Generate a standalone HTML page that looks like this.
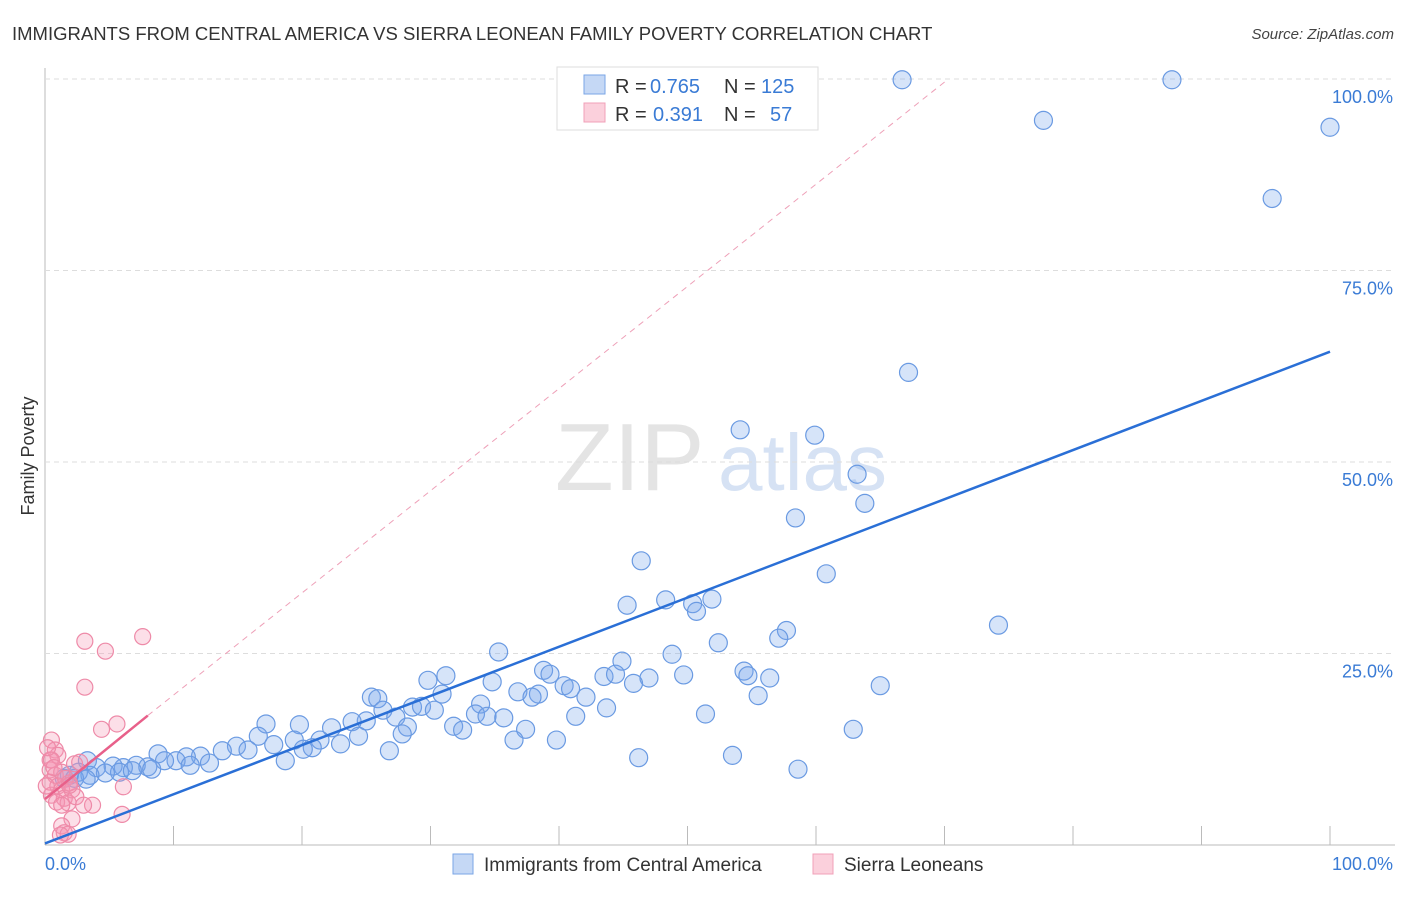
<!DOCTYPE html>
<html><head><meta charset="utf-8"><style>
body{margin:0;background:#fff;font-family:"Liberation Sans",sans-serif;}
svg text{font-family:"Liberation Sans",sans-serif;}
</style></head><body>
<svg id="chart" width="1406" height="892">
<text x="12" y="40" font-size="18.5" fill="#333">IMMIGRANTS FROM CENTRAL AMERICA VS SIERRA LEONEAN FAMILY POVERTY CORRELATION CHART</text>
<text x="1394" y="39" font-size="15" fill="#444" font-style="italic" text-anchor="end">Source: ZipAtlas.com</text>
<text x="34" y="456" font-size="18" fill="#333" text-anchor="middle" transform="rotate(-90 34 456)">Family Poverty</text>
<g><text x="555" y="490" font-size="96" fill="#e4e4e4" font-family="Liberation Serif">ZIP</text><text x="718" y="490" font-size="80" fill="#d6e2f4">atlas</text></g>
<g id="grid"></g><g id="pts"></g><g id="lines"></g>
<g>
<rect x="557" y="67" width="261" height="63" fill="#fff" stroke="#ddd"/>
<rect x="584" y="75" width="21" height="19" fill="#c5d8f5" stroke="#7aa6e6"/>
<rect x="584" y="103" width="21" height="19" fill="#fbd0dc" stroke="#f0a0b8"/>
<text y="93" font-size="20" fill="#333"><tspan x="615">R =</tspan><tspan x="650" fill="#3a7bd5">0.765</tspan><tspan x="724">N =</tspan><tspan x="761" fill="#3a7bd5">125</tspan></text>
<text y="121" font-size="20" fill="#333"><tspan x="615">R =</tspan><tspan x="653" fill="#3a7bd5">0.391</tspan><tspan x="724">N =</tspan><tspan x="770" fill="#3a7bd5">57</tspan></text>
</g>
<g>
<rect x="453" y="854" width="20" height="20" fill="#c5d8f5" stroke="#7aa6e6"/>
<text x="484" y="871" font-size="19" fill="#333">Immigrants from Central America</text>
<rect x="813" y="854" width="20" height="20" fill="#fbd0dc" stroke="#f0a0b8"/>
<text x="844" y="871" font-size="19" fill="#333">Sierra Leoneans</text>
</g>
</svg>
<script>
const yTicks=[25,50,75,100];
const yTickLabels=["25.0%","50.0%","75.0%","100.0%"];
const xTickLabels=["0.0%","100.0%"];
const blueX=[66.7,87.7,77.7,100,95.5,67.2,54.1,59.9,63.2,63.8,58.4,46.4,60.8,45.3,48.3,50.4,51.9,50.7,74.2,57.7,57.1,52.4,35.3,48.8,44.9,38.8,39.3,29.8,31.2,54.4,54.7,43.5,44.4,49.7,56.4,47.0,45.8,34.8,65.0,40.4,40.9,36.8,38.4,37.9,30.9,42.1,25.4,25.9,55.5,33.9,26.3,28.6,29.3,30.3,43.7,17.2,19.8,27.3,25.0,33.5,34.4,35.7,41.3,51.4,31.8,32.5,37.4,28.2,23.9,62.9,22.3,27.8,24.4,36.5,39.8,21.4,23.0,16.6,19.4,17.8,20.8,20.1,14.9,13.8,15.8,26.8,53.5,46.2,18.7,12.1,12.8,11.0,8.8,10.2,11.3,9.3,58.6,7.1,8.0,6.1,5.3,8.3,3.3,4.0,5.8,6.8,4.7,2.6,1.9,3.5,1.5,2.3,3.2];
const blueY=[99.9,99.9,94.6,93.7,84.4,61.7,54.2,53.5,48.4,44.6,42.7,37.1,35.4,31.3,32.0,31.5,32.1,30.5,28.7,28.0,27.0,26.4,25.2,24.9,24.0,22.8,22.3,21.5,22.1,22.7,22.1,22.0,22.3,22.2,21.8,21.8,21.1,21.3,20.8,20.8,20.4,20.0,19.7,19.3,19.7,19.3,19.3,19.1,19.5,18.4,17.6,18.0,18.1,17.6,17.9,15.8,15.7,16.7,16.2,17.1,16.8,16.6,16.8,17.1,15.5,15.0,15.1,15.4,16.1,15.1,15.3,14.5,14.2,13.7,13.7,13.7,13.2,14.2,13.7,13.1,12.7,12.5,12.9,12.3,12.4,12.3,11.7,11.4,11.0,11.6,10.7,11.5,11.9,11.0,10.4,11.0,9.9,10.4,10.2,10.1,10.3,9.9,11.0,10.1,9.5,9.7,9.4,9.5,9.1,9.1,8.7,8.7,8.6];
const pinkX=[3.1,7.6,4.7,3.1,4.4,5.6,0.5,0.8,0.4,1.0,2.3,2.7,0.4,0.8,1.3,1.6,0.4,1.0,1.9,1.3,2.1,0.5,1.5,0.9,1.8,1.3,2.4,3.7,3.0,6.1,6.0,2.1,1.3,1.5,1.8,1.2,0.5,0.2,0.7,0.1,1.9];
const pinkY=[26.6,27.2,25.3,20.6,15.1,15.8,13.7,12.4,11.1,11.7,10.6,10.8,9.8,9.1,9.5,8.7,8.2,7.7,8.1,7.2,7.2,6.5,6.1,5.6,5.5,5.2,6.3,5.2,5.2,7.6,4.0,3.4,2.5,1.6,1.4,1.3,11.1,12.7,10.1,7.7,7.8];
const blueTrend=[[0,0.2],[100,64.4]];
const pinkTrend=[[0,6.0],[8,16.9]];
const pinkDash=[[8,16.9],[70.3,100]];
const X0=45,X1=1330,Y0=845,Y100=79;
const sx=v=>X0+(X1-X0)*v/100, sy=v=>Y0-(Y0-Y100)*v/100;
const NS="http://www.w3.org/2000/svg";
function mk(tag,attrs,parent){const e=document.createElementNS(NS,tag);for(const k in attrs)e.setAttribute(k,attrs[k]);document.getElementById(parent).appendChild(e);return e;}
const ax=mk('line',{x1:X0,y1:68,x2:X0,y2:Y0,stroke:'#bbb'},'grid');


const bx=mk('line',{x1:X0,y1:Y0,x2:1395,y2:Y0,stroke:'#bbb'},'grid');


yTicks.forEach((t,i)=>{
 const g=mk('line',{x1:X0,y1:sy(t),x2:1395,y2:sy(t),stroke:'#ddd','stroke-dasharray':'5,4'},'grid');
 
 
 const l=mk('text',{x:1393,y:sy(t)+24,'font-size':18,fill:'#3a7bd5','text-anchor':'end'},'grid');l.textContent=yTickLabels[i];
 
 
});
for(let i=1;i<=10;i++){const t=mk('line',{x1:sx(i*10),y1:826,x2:sx(i*10),y2:Y0,stroke:'#bbb'},'grid');
 
 }
const xl0=mk('text',{x:45,y:870,'font-size':18,fill:'#3a7bd5'},'grid');xl0.textContent=xTickLabels[0];


const xl1=mk('text',{x:1393,y:870,'font-size':18,fill:'#3a7bd5','text-anchor':'end'},'grid');xl1.textContent=xTickLabels[1];


blueX.forEach((x,i)=>{const c=mk('circle',{cx:sx(x),cy:sy(blueY[i]),r:9,fill:'rgba(120,165,235,0.3)',stroke:'#6a9ae2','stroke-width':1.2},'pts');
 
 });
pinkX.forEach((x,i)=>{const c=mk('circle',{cx:sx(x),cy:sy(pinkY[i]),r:8,fill:'rgba(245,150,180,0.3)',stroke:'#ee8aa8','stroke-width':1.2},'pts');
 
 });
const bl=mk('line',{x1:sx(blueTrend[0][0]),y1:sy(blueTrend[0][1]),x2:sx(blueTrend[1][0]),y2:sy(blueTrend[1][1]),stroke:'#2a6fd6','stroke-width':2.5},'lines');


const pl=mk('line',{x1:sx(pinkTrend[0][0]),y1:sy(pinkTrend[0][1]),x2:sx(pinkTrend[1][0]),y2:sy(pinkTrend[1][1]),stroke:'#e8608a','stroke-width':2.5},'lines');


const pd=mk('line',{x1:sx(pinkDash[0][0]),y1:sy(pinkDash[0][1]),x2:sx(pinkDash[1][0]),y2:sy(pinkDash[1][1]),stroke:'#eea0b8','stroke-width':1,'stroke-dasharray':'6,5'},'lines');


</script>
</body></html>
